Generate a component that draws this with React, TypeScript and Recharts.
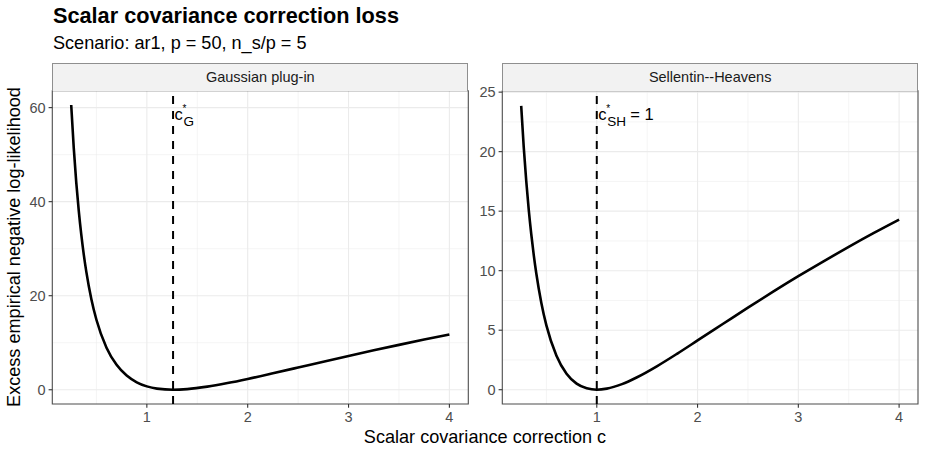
import React from 'react';
import { LineChart, Line, XAxis, YAxis, CartesianGrid, ReferenceLine, ReferenceArea } from 'recharts';

const title = 'Scalar covariance correction loss';
const subtitle = 'Scenario: ar1, p = 50, n_s/p = 5';
const xTitle = 'Scalar covariance correction c';
const yTitle = 'Excess empirical negative log-likelihood';
const panelNames = ['Gaussian plug-in', 'Sellentin--Heavens'];

const cGauss = [0.25, 0.275, 0.3, 0.325, 0.35, 0.375, 0.4, 0.45, 0.5, 0.6, 0.7, 0.8, 0.9, 1.0, 1.1, 1.26, 1.4, 1.6, 1.8, 2.0, 2.25, 2.5, 2.75, 3.0, 3.25, 3.5, 3.75, 4.0];
const lossGauss = [60.56, 51.49, 44.12, 38.05, 32.98, 28.7, 25.07, 19.26, 14.89, 8.95, 5.31, 3.02, 1.59, 0.72, 0.24, 0.0, 0.14, 0.66, 1.42, 2.3, 3.5, 4.73, 5.97, 7.19, 8.38, 9.54, 10.67, 11.76];
const cSH = [0.25, 0.275, 0.3, 0.325, 0.35, 0.375, 0.4, 0.45, 0.5, 0.6, 0.7, 0.8, 0.9, 1.0, 1.1, 1.25, 1.4, 1.6, 1.8, 2.0, 2.25, 2.5, 2.75, 3.0, 3.25, 3.5, 3.75, 4.0];
const lossSH = [23.85, 20.4, 17.55, 15.11, 13.06, 11.29, 9.76, 7.29, 5.4, 2.85, 1.34, 0.51, 0.12, 0.0, 0.09, 0.47, 1.05, 1.99, 3.04, 4.14, 5.52, 6.9, 8.24, 9.54, 10.79, 12.0, 13.17, 14.29];

const optGauss = 1.26;
const optSH = 1.0;

const xTicks = [1, 2, 3, 4];
const xMinor = [0.5, 1.5, 2.5, 3.5];
const yTicksGauss = [0, 20, 40, 60];
const yMinorGauss = [10, 30, 50];
const yTicksSH = [0, 5, 10, 15, 20, 25];
const yMinorSH = [2.5, 7.5, 12.5, 17.5, 22.5];

const xDomain: [number, number] = [0.0625, 4.1875];
const yDomainGauss: [number, number] = [-3.03, 63.6];
const yDomainSH: [number, number] = [-1.2, 25.12];

const FONT = '"Liberation Sans", Arial, Helvetica, sans-serif';
const BASE = 18.1;
const SMALL = 14.5;

const dataGauss = cGauss.map((c, i) => ({ c, loss: lossGauss[i] }));
const dataSH = cSH.map((c, i) => ({ c, loss: lossSH[i] }));

function OptLabel(props: any) {
  const { viewBox, sub, suffix } = props;
  const x = viewBox.x;
  const top = viewBox.y;
  return (
    <g fontFamily={FONT} fill="#000">
      <text x={x + 1.5} y={top + 29.5} fontSize={16.5}>c</text>
      <text x={x + 9.5} y={top + 21} fontSize={10}>*</text>
      <text x={x + 10.5} y={top + 35.5} fontSize={13.5}>{sub}</text>
      {suffix ? <text x={x + 33.5} y={top + 29.5} fontSize={16.5}>{suffix}</text> : null}
    </g>
  );
}

function Panel(props: any) {
  const { data, yDomain, yTicks, yMinor, opt, sub, suffix, width, margin } = props;
  return (
    <LineChart width={width} height={451} data={data} margin={margin}>
      <CartesianGrid stroke="#ebebeb" strokeWidth={0.55} verticalValues={xMinor} horizontalValues={yMinor} />
      <CartesianGrid stroke="#ebebeb" strokeWidth={1.1} verticalValues={xTicks} horizontalValues={yTicks} />
      <XAxis
        dataKey="c"
        type="number"
        domain={xDomain}
        ticks={xTicks}
        allowDataOverflow
        axisLine={false}
        tickLine={{ stroke: '#333333', strokeWidth: 1.1 }}
        tickSize={3.7}
        tickMargin={4.5}
        height={30}
        tick={{ fill: '#4d4d4d', fontSize: SMALL, fontFamily: FONT }}
      />
      <YAxis
        type="number"
        domain={yDomain}
        ticks={yTicks}
        allowDataOverflow
        axisLine={false}
        tickLine={{ stroke: '#333333', strokeWidth: 1.1 }}
        tickSize={3.7}
        tickMargin={3}
        width={40}
        tick={{ fill: '#4d4d4d', fontSize: SMALL, fontFamily: FONT }}
      />
      <Line
        type="monotone"
        dataKey="loss"
        stroke="#000000"
        strokeWidth={2.6}
        dot={false}
        isAnimationActive={false}
      />
      <ReferenceLine
        x={opt}
        stroke="#000000"
        strokeWidth={2}
        strokeDasharray="8 7"
        label={<OptLabel sub={sub} suffix={suffix} />}
      />
      <ReferenceArea
        x1={xDomain[0]}
        x2={xDomain[1]}
        y1={yDomain[0]}
        y2={yDomain[1]}
        fill="none"
        stroke="#4d4d4d"
        strokeWidth={1.1}
      />
    </LineChart>
  );
}

function Strip(props: any) {
  const { left, width, label } = props;
  return (
    <div
      style={{
        position: 'absolute',
        left,
        top: 62.5,
        width,
        height: 28.5,
        boxSizing: 'border-box',
        background: '#f2f2f2',
        border: '1px solid #8f8f8f',
        borderBottom: 'none',
        fontFamily: FONT,
        fontSize: SMALL,
        color: '#1a1a1a',
        display: 'flex',
        alignItems: 'center',
        justifyContent: 'center',
      }}
    >
      {label}
    </div>
  );
}

export default function App() {
  return (
    <div style={{ position: 'absolute', left: 0, top: 0, width: 925, height: 451, background: '#fff', overflow: 'hidden' }}>
      <svg width={925} height={451} style={{ position: 'absolute', left: 0, top: 0 }}>
        <text x={53} y={23} fontFamily={FONT} fontSize={21.7} fontWeight="bold" fill="#000">{title}</text>
        <text x={53} y={49.3} fontFamily={FONT} fontSize={BASE} fill="#000">{subtitle}</text>
        <text x={485} y={443.3} fontFamily={FONT} fontSize={BASE} fill="#000" textAnchor="middle">{xTitle}</text>
        <text
          x={0}
          y={0}
          transform="translate(19.5,247) rotate(-90)"
          fontFamily={FONT}
          fontSize={BASE}
          fill="#000"
          textAnchor="middle"
        >
          {yTitle}
        </text>
      </svg>
      <div style={{ position: 'absolute', left: 0, top: 0 }}>
        <Panel
          data={dataGauss}
          yDomain={yDomainGauss}
          yTicks={yTicksGauss}
          yMinor={yMinorGauss}
          opt={optGauss}
          sub="G"
          suffix=""
          width={480}
          margin={{ top: 90.7, right: 11.7, bottom: 17, left: 12.3 }}
        />
      </div>
      <div style={{ position: 'absolute', left: 460, top: 0 }}>
        <Panel
          data={dataSH}
          yDomain={yDomainSH}
          yTicks={yTicksSH}
          yMinor={yMinorSH}
          opt={optSH}
          sub="SH"
          suffix="= 1"
          width={465}
          margin={{ top: 90.7, right: 7, bottom: 17, left: 2.3 }}
        />
      </div>
      <Strip left={52.3} width={416} label={panelNames[0]} />
      <Strip left={502.3} width={415.7} label={panelNames[1]} />
    </div>
  );
}
